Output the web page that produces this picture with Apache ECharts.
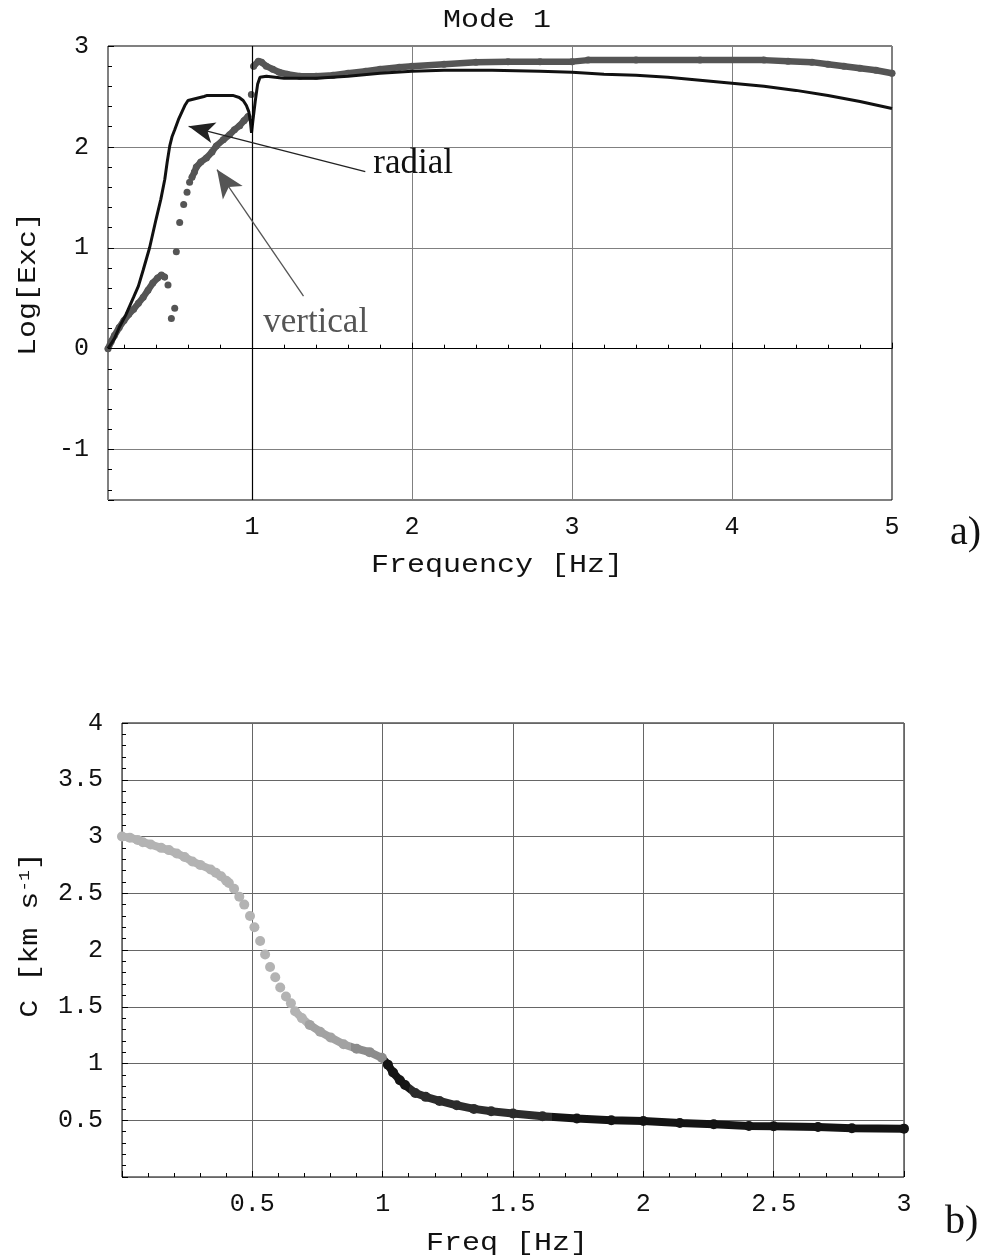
<!DOCTYPE html>
<html>
<head>
<meta charset="utf-8">
<script src="https://cdn.jsdelivr.net/npm/echarts@6/dist/echarts.min.js"></script>
<style>
html,body{margin:0;padding:0;background:#fff;}
#chart{width:990px;height:1260px;}
</style>
</head>
<body>
<div id="chart"></div>
<script>
// ---- panel a) Mode 1 excitation, Log[Exc] vs frequency ----
const radialData=[
    [0.10,0.00],[0.14,0.10],[0.17,0.21],[0.21,0.33],[0.26,0.51],[0.29,0.62],
    [0.32,0.78],[0.36,1.00],[0.40,1.28],[0.43,1.48],[0.455,1.68],[0.47,1.85],
    [0.486,2.01],[0.50,2.10],[0.517,2.17],[0.54,2.27],[0.56,2.34],[0.58,2.41],
    [0.60,2.46],[0.65,2.48],[0.70,2.50],[0.72,2.51],[0.80,2.51],[0.88,2.51],
    [0.92,2.49],[0.945,2.46],[0.965,2.41],[0.98,2.35],[0.99,2.25],[0.997,2.14],
    [1.005,2.25],[1.02,2.45],[1.035,2.62],[1.05,2.69],[1.09,2.70],[1.2,2.68],
    [1.4,2.68],[1.6,2.70],[1.8,2.73],[2.0,2.75],[2.2,2.76],[2.5,2.76],
    [2.8,2.75],[3.0,2.74],[3.2,2.72],[3.4,2.71],[3.6,2.69],[3.8,2.66],
    [4.0,2.63],[4.2,2.60],[4.4,2.56],[4.6,2.51],[4.8,2.45],[5.0,2.38]
];

const verticalLow=[
    [0.10,0.00],[0.12,0.07],[0.14,0.13],[0.17,0.21],[0.20,0.28],[0.23,0.34],
    [0.26,0.39],[0.29,0.45],[0.32,0.51],[0.35,0.58],[0.38,0.65],[0.41,0.70],
    [0.434,0.73],[0.454,0.71]
];

const verticalScattered=[
    [0.475,0.63],[0.496,0.30],[0.517,0.40],[0.527,0.96],[0.548,1.25],
    [0.573,1.43],[0.594,1.55],[0.61,1.65]
];

const verticalJump=[[0.996,2.52]];

const verticalMid=[
    [0.625,1.70],[0.64,1.75],[0.652,1.80],[0.68,1.85],[0.715,1.89],[0.75,1.95],
    [0.777,2.01],[0.82,2.07],[0.86,2.12],[0.89,2.17],[0.923,2.21],[0.95,2.26],
    [0.975,2.30]
];

const verticalHigh=[
    [1.01,2.80],[1.04,2.85],[1.06,2.84],[1.09,2.80],[1.13,2.77],[1.17,2.74],
    [1.22,2.72],[1.30,2.70],[1.40,2.70],[1.506,2.71],[1.6,2.73],[1.71,2.75],
    [1.8,2.77],[1.92,2.79],[2.0,2.80],[2.2,2.82],[2.4,2.84],[2.6,2.845],
    [2.8,2.845],[3.0,2.845],[3.1,2.86],[3.4,2.86],[3.8,2.86],[4.2,2.86],
    [4.35,2.85],[4.5,2.84],[4.6,2.82],[4.7,2.80],[4.8,2.78],[4.9,2.76],[5.0,2.73]
];

// annotation anchors (data coords)
const radialArrow=[[1.708,1.755],[0.604,2.204]];
const verticalArrow=[[1.322,0.521],[0.781,1.775]];
const radialTextAt=[1.758,1.835];
const verticalTextAt=[1.07,0.26];

// ---- panel b) phase velocity C vs Freq ----
const phaseDenseLow=[
    [0.0,3.0],[0.03,2.99],[0.06,2.97],[0.08,2.95],[0.11,2.93],[0.15,2.90],
    [0.18,2.88],[0.21,2.85],[0.24,2.82],[0.27,2.78],[0.30,2.75],[0.34,2.71],
    [0.36,2.68],[0.38,2.65],[0.40,2.61],[0.41,2.59]
];

const phaseSparse=[
    [0.43,2.54],[0.45,2.47],[0.469,2.40],[0.491,2.30],[0.508,2.20],[0.53,2.08],
    [0.549,1.96],[0.568,1.85],[0.588,1.76],[0.607,1.67],[0.629,1.59],[0.648,1.53]
];

const phaseDenseHigh=[
    [0.664,1.46],[0.69,1.40],[0.72,1.34],[0.76,1.28],[0.80,1.23],[0.85,1.17],
    [0.90,1.13],[0.95,1.10],[0.997,1.05],[1.02,0.99],[1.04,0.92],[1.066,0.853],
    [1.086,0.81],[1.125,0.74],[1.165,0.706],[1.218,0.67],[1.284,0.632],[1.35,0.60],
    [1.416,0.58],[1.50,0.56],[1.613,0.535],[1.745,0.515],[1.877,0.50],[2.0,0.494],
    [2.14,0.476],[2.27,0.465],[2.405,0.45],[2.5,0.447],[2.67,0.44],[2.80,0.43],
    [3.0,0.426]
];

const MONO="Liberation Mono";
const SERIF="Liberation Serif";
const STRETCH=1.2;

// join segments with gaps so that the line breaks between them
function joinSegments(segs){
    const out=[];
    segs.forEach((s,i)=>{
        if(i){
            out.push(["-","-"]);
        }
        s.forEach(p=>out.push(p));
    });
    return out;
}

const verticalData=joinSegments(
    [verticalLow]
        .concat(verticalScattered.map(p=>[p]))
        .concat([verticalMid,verticalJump,verticalHigh])
);

const phaseData=joinSegments(
    [phaseDenseLow]
        .concat(phaseSparse.map(p=>[p]))
        .concat([phaseDenseHigh])
);

const labelStyle={
    fontFamily:MONO,
    fontSize:25,
    color:"#111"
};

function axisCommon(extra){
    return Object.assign({
        type:"value",
        axisLine:{show:false},
        axisTick:{show:true,inside:true,length:6,lineStyle:{color:"#000"}},
        minorTick:{show:true,splitNumber:5,length:4,lineStyle:{color:"#000"}},
        splitLine:{show:true,lineStyle:{color:"#808080",width:1}},
        axisLabel:Object.assign({showMinLabel:false},labelStyle)
    },extra);
}

// stretched mono text, a bit like the wide Courier in the original
function monoText(text,x,y,rotated,rich){
    return {
        type:"text",
        x:x,y:y,
        rotation:rotated?Math.PI/2:0,
        scaleX:STRETCH,
        silent:true,
        style:{
            text:text,
            font:"25px 'Liberation Mono'",
            fill:"#111",
            align:"center",
            verticalAlign:"middle",
            rich:rich||{}
        }
    };
}

const chart=echarts.init(document.getElementById("chart"));

chart.setOption({
    backgroundColor:"#ffffff",
    animation:false,
    grid:[
        {left:108,top:46,width:784,height:454,show:true,borderColor:"#000",borderWidth:1,backgroundColor:"transparent"},
        {left:122,top:723,width:782,height:454,show:true,borderColor:"#000",borderWidth:1,backgroundColor:"transparent"}
    ],
    xAxis:[
        axisCommon({
            gridIndex:0,min:0.1,max:5,splitNumber:5,
            axisLabel:Object.assign({showMinLabel:false,margin:15},labelStyle)
        }),
        axisCommon({
            gridIndex:1,min:0,max:3,interval:0.5,
            splitLine:{show:true,lineStyle:{color:"#666",width:1}},
            axisLabel:Object.assign({showMinLabel:false,margin:15},labelStyle)
        })
    ],
    yAxis:[
        axisCommon({
            gridIndex:0,min:-1.5,max:3,splitNumber:5,
            axisLabel:Object.assign({showMinLabel:false,margin:19},labelStyle)
        }),
        axisCommon({
            gridIndex:1,min:0,max:4,interval:0.5,
            splitLine:{show:true,lineStyle:{color:"#666",width:1}},
            axisLabel:Object.assign({showMinLabel:false,margin:19},labelStyle)
        })
    ],
    visualMap:[
        {
            type:"piecewise",
            show:false,
            seriesIndex:2,
            dimension:0,
            pieces:[
                {lt:0.72,color:"#b3b3b3"},
                {gte:0.72,lt:0.88,color:"#a2a2a2"},
                {gte:0.88,lt:1.0,color:"#8c8c8c"},
                {gte:1.0,lt:1.1,color:"#151515"},
                {gte:1.1,lt:1.65,color:"#2c2c2c"},
                {gte:1.65,color:"#141414"}
            ]
        }
    ],
    graphic:[
        monoText("Mode 1",497,20,false),
        monoText("Frequency [Hz]",497,565,false),
        monoText("Freq [Hz]",507,1243,false),
        monoText("Log[Exc]",28,284,true),
        monoText("C [km s{sup|-1}]",30,935,true,{
            sup:{fontFamily:MONO,fontSize:15,verticalAlign:"top",fill:"#111"}
        }),
        {
            type:"text",x:950,y:533,silent:true,
            style:{text:"a)",font:"40px 'Liberation Serif'",fill:"#111",verticalAlign:"middle"}
        },
        {
            type:"text",x:945,y:1222,silent:true,
            style:{text:"b)",font:"40px 'Liberation Serif'",fill:"#111",verticalAlign:"middle"}
        }
    ],
    series:[
        {
            name:"radial",
            type:"line",
            xAxisIndex:0,yAxisIndex:0,
            data:radialData,
            showSymbol:false,
            lineStyle:{color:"#111",width:3},
            itemStyle:{color:"#111"},
            z:3,
            markLine:{
                silent:true,
                symbol:["none","none"],
                label:{show:false},
                lineStyle:{color:"#000",width:1.2,type:"solid"},
                data:[
                    {xAxis:1},
                    {yAxis:0},
                    [
                        {coord:radialArrow[0],lineStyle:{color:"#222",width:1.3,type:"solid"}},
                        {coord:radialArrow[1],symbol:"arrow",symbolSize:[16,26]}
                    ]
                ]
            },
            markPoint:{
                silent:true,
                symbol:"circle",
                symbolSize:0,
                data:[{coord:radialTextAt,value:"radial"}],
                label:{
                    show:true,position:"right",distance:0,
                    formatter:"radial",
                    fontFamily:SERIF,fontSize:35,color:"#111"
                }
            }
        },
        {
            name:"vertical",
            type:"line",
            xAxisIndex:0,yAxisIndex:0,
            data:verticalData,
            connectNulls:false,
            showSymbol:true,
            symbol:"circle",
            symbolSize:7,
            lineStyle:{color:"#555",width:6.5,cap:"round"},
            itemStyle:{color:"#555"},
            z:2,
            markLine:{
                silent:true,
                symbol:["none","none"],
                label:{show:false},
                lineStyle:{color:"#555",width:1.3,type:"solid"},
                data:[
                    [
                        {coord:verticalArrow[0]},
                        {coord:verticalArrow[1],symbol:"arrow",symbolSize:[18,28]}
                    ]
                ]
            },
            markPoint:{
                silent:true,
                symbol:"circle",
                symbolSize:0,
                data:[{coord:verticalTextAt,value:"vertical"}],
                label:{
                    show:true,position:"right",distance:0,
                    formatter:"vertical",
                    fontFamily:SERIF,fontSize:35,color:"#555"
                }
            }
        },
        {
            name:"phase velocity",
            type:"line",
            xAxisIndex:1,yAxisIndex:1,
            data:phaseData,
            connectNulls:false,
            showSymbol:true,
            symbol:"circle",
            symbolSize:10,
            lineStyle:{width:8,cap:"round"},
            z:2
        }
    ]
});
</script>
</body>
</html>
